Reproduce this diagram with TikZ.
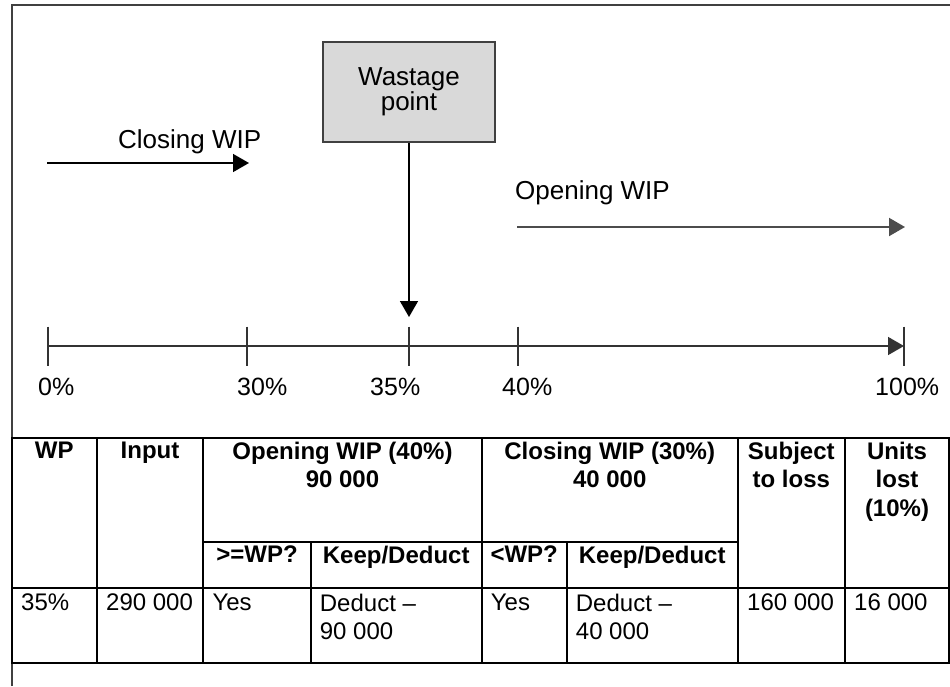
\documentclass[tikz,border=0pt]{standalone}
\usepackage{fontspec}
\setmainfont{Liberation Sans}
\usetikzlibrary{positioning, arrows.meta, calc}

\begin{document}
\begin{tikzpicture}[
    x=1pt, y=-1pt,
    >={Triangle[length=16pt, width=18pt]},
    wbox/.style={rectangle, draw=black!75, line width=1.2pt, fill=black!15,
                 minimum width=172pt, minimum height=100pt, align=center,
                 font=\fontsize{26}{25}\selectfont},
    lbl/.style={anchor=base west, inner sep=0pt, font=\fontsize{26}{30}\selectfont},
    pct/.style={lbl, font=\fontsize{25}{30}\selectfont},
    arr/.style={->, line width=1.5pt},
    axtick/.style={line width=1.2pt, black!80},
    tline/.style={line width=2pt},
    hdr/.style={anchor=north, inner sep=0pt, align=center,
                font=\fontsize{24}{28.5}\selectfont\bfseries},
    cell/.style={anchor=north west, inner sep=0pt, align=left,
                 font=\fontsize{24}{28.5}\selectfont},
  ]
  \useasboundingbox (0,0) rectangle (950,686);
  \draw[black!75, line width=1.2pt] (12,686) -- (12,5) -- (950,5);

  % wastage point and the time line
  \node[wbox] (waste) at (409,92) {Wastage\\point};
  \coordinate (wp) at (409,317);
  \draw[arr] (waste) -- (wp);

  \coordinate (p0) at (48,346);
  \coordinate (p30) at (247,346);
  \coordinate (p35) at (409,346);
  \coordinate (p40) at (518,346);
  \coordinate (p100) at (904,346);
  \draw[arr, black!80] (p0) -- (p100);
  \foreach \p in {p0,p30,p35,p40,p100}
    \draw[axtick] ($(\p)+(0,-19.5)$) -- ($(\p)+(0,19.5)$);

  \node[pct] (l0) at (38,395) {0\%};
  \node[pct] (l30) at (237,395) {30\%};
  \node[pct] (l35) at (370,395) {35\%};
  \node[pct] (l40) at (502,395) {40\%};
  \node[pct] (l100) at (875,395) {100\%};

  % WIP arrows
  \coordinate (c0) at (47,163);
  \coordinate (c1) at (249,163);
  \draw[arr] (c0) -- (c1);
  \node[lbl] (closing) at (118,148) {Closing WIP};

  \coordinate (o0) at (517,227);
  \coordinate (o1) at (905,227);
  \draw[arr, black!70, line width=2pt] (o0) -- (o1);
  \node[lbl] (opening) at (515,199) {Opening WIP};

  % table
  \draw[tline] (12,437.7) rectangle (949,663.3);
  \draw[tline] (12,587.7) -- (949,587.7);
  \draw[tline] (203.3,542.3) -- (737.7,542.3);
  \foreach \x in {96.7,203.3,481.7,737.7,845}
    \draw[tline] (\x,437.7) -- (\x,663.3);
  \foreach \x in {310.7,566.7}
    \draw[tline] (\x,542.3) -- (\x,663.3);

  \node[hdr] (hwp) at (54.3,441.8) {WP};
  \node[hdr] (hin) at (150,441.8) {Input};
  \node[hdr] (hop) at (342.5,441.8) {Opening WIP (40\%)\\90 000};
  \node[hdr] (hcl) at (609.7,441.8) {Closing WIP (30\%)\\40 000};
  \node[hdr] (hsub) at (791.3,441.8) {Subject\\to loss};
  \node[hdr] (hunit) at (897,441.8) {Units\\lost\\(10\%)};

  \node[hdr] (hopq) at (257,545.8) {>=WP?};
  \node[hdr] (hopk) at (396.2,545.8) {Keep/Deduct};
  \node[hdr] (hclq) at (524.2,545.8) {<WP?};
  \node[hdr] (hclk) at (652.2,545.8) {Keep/Deduct};

  \node[cell] (dwp) at (21,593.5) {35\%};
  \node[cell] (din) at (106,593.5) {290 000};
  \node[cell] (dopq) at (212.3,593.5) {Yes};
  \node[cell] (dopk) at (319.7,593.5) {Deduct --\\90 000};
  \node[cell] (dclq) at (490.7,593.5) {Yes};
  \node[cell] (dclk) at (575.7,593.5) {Deduct --\\40 000};
  \node[cell] (dsub) at (747,593.5) {160 000};
  \node[cell] (dunit) at (854,593.5) {16 000};
\end{tikzpicture}
\end{document}
